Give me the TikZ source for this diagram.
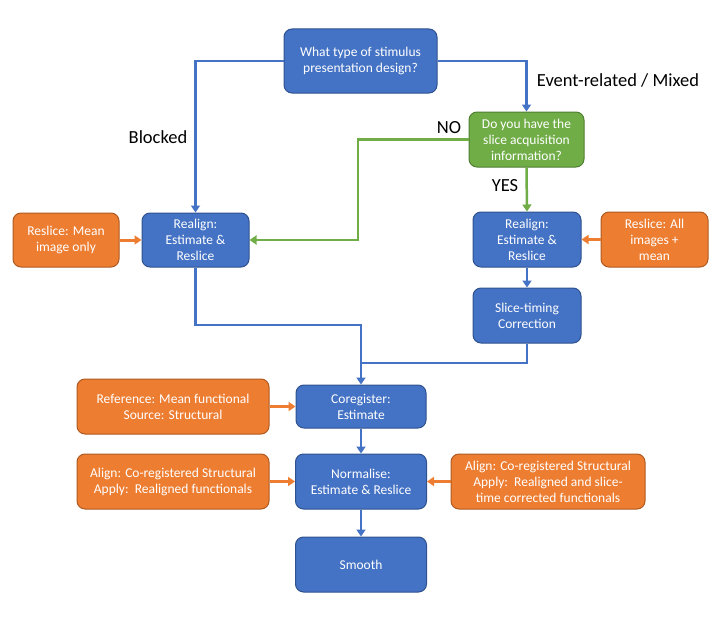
\documentclass[tikz,border=0pt]{standalone}
\usepackage{fontspec}
\setmainfont{Carlito}
\usetikzlibrary{arrows.meta}
\definecolor{bfill}{HTML}{4472C4}
\definecolor{bedge}{HTML}{2F528F}
\definecolor{gfill}{HTML}{70AD47}
\definecolor{gedge}{HTML}{507E32}
\definecolor{ofill}{HTML}{ED7D31}
\definecolor{oedge}{HTML}{AE5A21}
\tikzset{
  box/.style={rectangle, rounded corners=8pt, line width=1pt, text=white, align=center,
    font=\fontsize{13.5}{16}\selectfont, inner sep=2pt},
  bluebox/.style={box, fill=bfill, draw=bedge},
  greenbox/.style={box, fill=gfill, draw=gedge},
  orangebox/.style={box, fill=ofill, draw=oedge},
  tip/.style={-{Triangle[length=7pt,width=9pt]}},
  blueline/.style={draw=bfill, line width=2.5pt},
  greenline/.style={draw=gfill, line width=2.5pt},
  orangeline/.style={draw=ofill, line width=3pt},
  lbl/.style={font=\fontsize{18.5}{22}\selectfont, text=black}
}
\begin{document}
\begin{tikzpicture}[x=1pt,y=-1pt]
\useasboundingbox (0,0) rectangle (720,626);
% decision boxes
\node[bluebox, minimum width=153pt, minimum height=64pt] (q1) at (360.5,61) {What type of stimulus\\presentation design?};
\node[greenbox, minimum width=115pt, minimum height=55pt] (q2) at (526.5,139.5) {Do you have the\\slice acquisition\\information?};
% processing steps
\node[bluebox, minimum width=107pt, minimum height=54pt] (rl) at (195.5,240) {Realign:\\Estimate \&\\Reslice};
\node[bluebox, minimum width=108pt, minimum height=55pt] (rr) at (527,239.5) {Realign:\\Estimate \&\\Reslice};
\node[bluebox, minimum width=108pt, minimum height=55pt] (st) at (527,315.5) {Slice-timing\\Correction};
\node[bluebox, minimum width=130pt, minimum height=43pt] (co) at (361,406.5) {Coregister:\\Estimate};
\node[bluebox, minimum width=131pt, minimum height=55pt] (no) at (361,481.5) {Normalise:\\Estimate \& Reslice};
\node[bluebox, minimum width=131pt, minimum height=55pt] (sm) at (361,564.5) {Smooth};
% settings
\node[orangebox, minimum width=106pt, minimum height=54pt] (om) at (66,240) {Reslice: Mean\\image only};
\node[orangebox, minimum width=107pt, minimum height=55pt] (oa) at (654.5,239.5) {Reslice: All\\images +\\mean};
\node[orangebox, minimum width=192pt, minimum height=55pt] (orf) at (173,406.5) {Reference: Mean functional\\Source: Structural};
\node[orangebox, minimum width=192pt, minimum height=55pt] (oal) at (173,481.5) {Align: Co-registered Structural\\Apply:\ \ Realigned functionals};
\node[orangebox, minimum width=194pt, minimum height=55pt] (oar) at (548,481.5) {Align: Co-registered Structural\\Apply:\ \ Realigned and slice-\\time corrected functionals};
% junction points
\coordinate (nobend) at (358,200);
\coordinate (jl) at (361,325);
\coordinate (jr) at (361,363);
% branch labels
\node[lbl] (lblk) at (158,137) {Blocked};
\node[lbl] (lev) at (618,80) {Event-related / Mixed};
\node[lbl] (lno) at (449,128) {NO};
\node[lbl] (lyes) at (505,186) {YES};
% connectors
\draw[blueline, tip] (q1.west) -| (rl.north);
\draw[blueline, tip] (q1.east) -| (q2.north);
\draw[greenline, tip] (q2.west) -| (nobend) |- (rl.east);
\draw[greenline, tip] (q2.south) -- (rr.north);
\draw[blueline, tip] (rr.south) -- (st.north);
\draw[blueline, tip] (rl.south) |- (jl) -- (co.north);
\draw[blueline] (st.south) |- (jr);
\draw[blueline, tip] (co.south) -- (no.north);
\draw[blueline, tip] (no.south) -- (sm.north);
\draw[orangeline, tip] (om.east) -- (rl.west);
\draw[orangeline, tip] (oa.west) -- (rr.east);
\draw[orangeline, tip] (orf.east) -- (co.west);
\draw[orangeline, tip] (oal.east) -- (no.west);
\draw[orangeline, tip] (oar.west) -- (no.east);
\end{tikzpicture}
\end{document}
